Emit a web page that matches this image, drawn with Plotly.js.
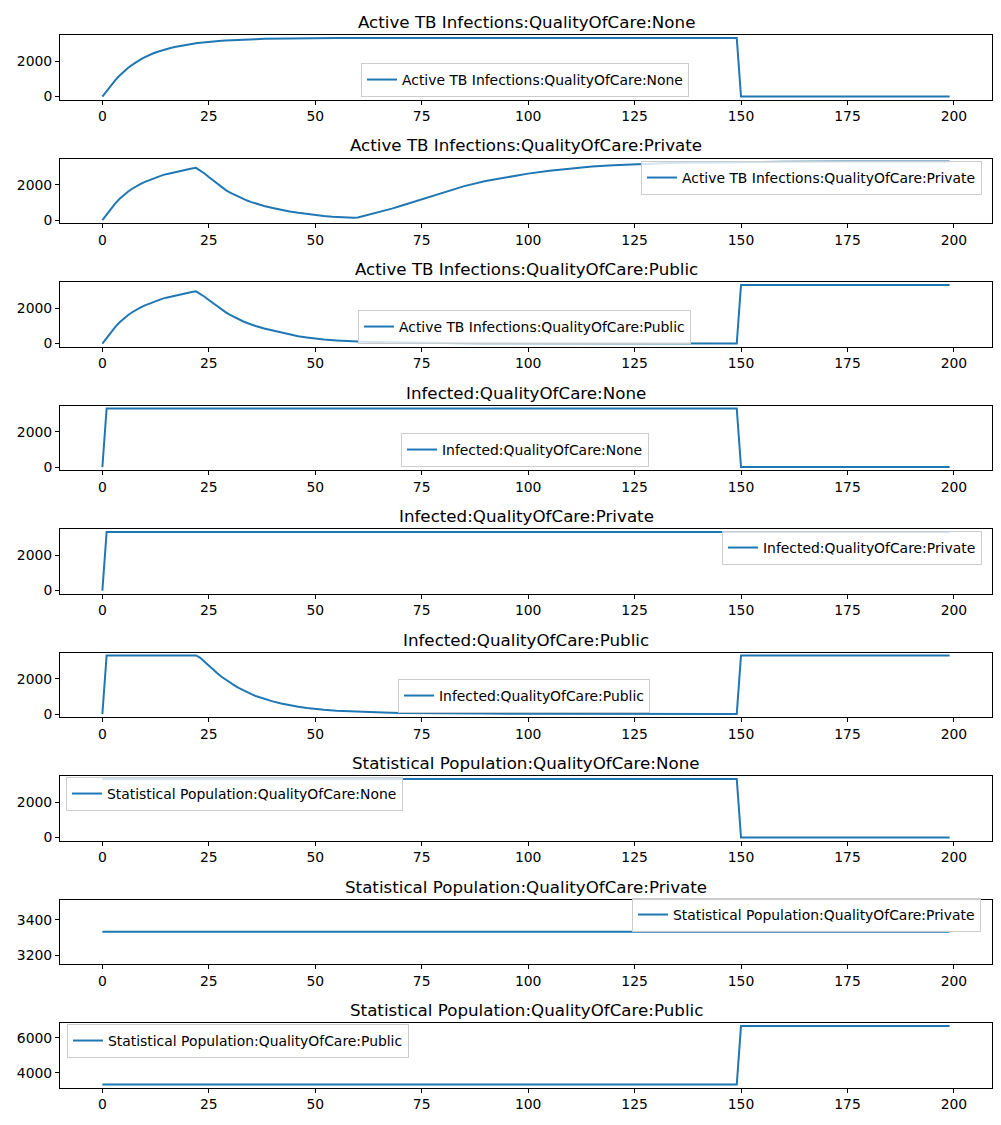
<!DOCTYPE html>
<html>
<head>
<meta charset="utf-8">
<script src="https://cdn.plot.ly/plotly-3.0.1.min.js"></script>
<style>html,body{margin:0;padding:0;background:#fff;}#chart{width:1001px;height:1125px;}</style>
</head>
<body>
<div id="chart"></div>
<script>
// ---------- data ----------
const seriesNames = [
  "Active TB Infections:QualityOfCare:None",
  "Active TB Infections:QualityOfCare:Private",
  "Active TB Infections:QualityOfCare:Public",
  "Infected:QualityOfCare:None",
  "Infected:QualityOfCare:Private",
  "Infected:QualityOfCare:Public",
  "Statistical Population:QualityOfCare:None",
  "Statistical Population:QualityOfCare:Private",
  "Statistical Population:QualityOfCare:Public"
];

const activeNoneT = [0,1,2,3,4,5,6,7,8,9,10,11,12,13,14,15,16,17,18,19,20,21,22,23,24,25,26,27,28,29,30,32,34,36,38,40,43,46,50,55,60,70,149,150,199];
const activeNoneY = [0,330,640,920,1180,1410,1620,1800,1970,2110,2240,2360,2460,2550,2630,2700,2760,2820,2870,2920,2960,3000,3030,3060,3090,3110,3135,3155,3175,3190,3205,3230,3250,3265,3280,3290,3302,3310,3318,3324,3328,3332,3333,0,0];

const activePrivateT = [0,1,2,3,4,5,6,7,8,9,10,11,12,13,14,15,16,17,18,19,20,21,22,23,24,25,26,27,28,29,30,31,32,33,34,35,36,38,40,42,44,46,48,50,52,54,56,58,59,60,62,64,66,68,70,72,75,80,85,90,95,100,105,110,115,120,125,130,135,140,150,160,175,199];
const activePrivateY = [0,330,650,940,1200,1420,1610,1780,1930,2060,2170,2270,2370,2460,2540,2610,2670,2730,2790,2840,2890,2930,2970,2820,2650,2450,2250,2050,1850,1700,1560,1440,1320,1210,1110,1020,940,800,690,580,490,410,340,280,230,190,160,135,130,150,270,380,510,650,800,950,1200,1580,1930,2220,2450,2640,2800,2930,3040,3120,3180,3220,3255,3275,3300,3315,3325,3333];

const activePublicT = [0,1,2,3,4,5,6,7,8,9,10,11,12,13,14,15,16,17,18,19,20,21,22,23,24,25,26,27,28,29,30,31,32,33,34,35,36,38,40,42,44,46,48,50,52,55,58,60,63,66,70,75,80,90,100,120,149,150,199];
const activePublicY = [0,330,650,940,1200,1420,1610,1780,1930,2060,2170,2270,2370,2460,2540,2610,2670,2730,2790,2840,2890,2930,2970,2830,2660,2480,2290,2100,1920,1770,1630,1500,1380,1270,1170,1080,1000,860,740,620,500,420,350,280,230,180,130,115,95,80,60,45,35,25,18,12,10,3333,3333];

const infectedNoneT = [0,1,149,150,199];
const infectedNoneY = [0,3333,3333,0,0];

const infectedPrivateT = [0,1,199];
const infectedPrivateY = [0,3333,3333];

const infectedPublicT = [0,1,22,23,24,25,26,27,28,29,30,31,32,33,34,35,36,38,40,42,44,46,48,50,52,55,58,60,63,66,70,75,80,90,100,120,149,150,199];
const infectedPublicY = [0,3333,3333,3200,2980,2750,2530,2320,2120,1940,1780,1630,1490,1360,1240,1130,1030,860,720,600,500,420,350,290,240,190,150,130,105,85,65,50,40,28,20,12,8,3333,3333];

const statNoneT = [0,149,150,199];
const statNoneY = [3333,3333,0,0];

const statPrivateT = [0,199];
const statPrivateY = [3333,3333];

const statPublicT = [0,149,150,199];
const statPublicY = [3333,3333,6667,6667];

const xTickStep = 25;
const yTickSteps = [2000,2000,2000,2000,2000,2000,2000,200,2000];

// ---------- figure ----------
const seriesT = [activeNoneT, activePrivateT, activePublicT, infectedNoneT, infectedPrivateT, infectedPublicT, statNoneT, statPrivateT, statPublicT];
const seriesY = [activeNoneY, activePrivateY, activePublicY, infectedNoneY, infectedPrivateY, infectedPublicY, statNoneY, statPrivateY, statPublicY];
// legend box top-left corners in pixels (matplotlib "best" locations)
const legendPos = [[361,63],[641,161],[358,310],[401,433],[722,531],[398,679],[66,777],[632,898],[67,1024]];

const W = 1001, H = 1125;
const left = 60, right = 992;
const FONT = "DejaVu Sans, Liberation Sans, sans-serif";
const BLUE = "#1f77b4";

function mplRange(arr) {
  let lo = Math.min(...arr), hi = Math.max(...arr);
  if (lo === hi) { lo -= 0.05 * Math.abs(lo); hi += 0.05 * Math.abs(hi); }
  const pad = 0.05 * (hi - lo);
  return [lo - pad, hi + pad];
}

const traces = [];
const layout = {
  width: W, height: H, autosize: false,
  margin: {l: 0, r: 0, t: 0, b: 0},
  paper_bgcolor: "#fff", plot_bgcolor: "#fff",
  font: {family: FONT, size: 13.9, color: "#000"},
  showlegend: true,
  annotations: []
};

for (let i = 0; i < 9; i++) {
  const top = 35 + 123.5 * i;
  const bottom = top + 64.5;
  const sfx = i === 0 ? "" : String(i + 1);
  const legName = "legend" + sfx;
  traces.push({
    x: seriesT[i], y: seriesY[i], type: "scatter", mode: "lines",
    name: seriesNames[i],
    line: {color: BLUE, width: 2},
    xaxis: "x" + sfx, yaxis: "y" + sfx,
    legend: legName
  });
  const xr = [0, 199];
  const xpad = 0.05 * (xr[1] - xr[0]);
  layout["xaxis" + sfx] = {
    domain: [left / W, right / W],
    anchor: "y" + sfx,
    range: [xr[0] - xpad, xr[1] + xpad],
    tickmode: "linear", tick0: 0, dtick: xTickStep,
    showgrid: false, zeroline: false,
    showline: true, mirror: true, linecolor: "#000", linewidth: 1,
    ticks: "outside", ticklen: 4, tickwidth: 1, tickcolor: "#000",
    tickfont: {family: FONT, size: 13.9, color: "#000"}
  };
  layout["yaxis" + sfx] = {
    domain: [1 - bottom / H, 1 - top / H],
    anchor: "x" + sfx,
    range: mplRange(seriesY[i]),
    tickmode: "linear", tick0: 0, dtick: yTickSteps[i],
    showgrid: false, zeroline: false,
    showline: true, mirror: true, linecolor: "#000", linewidth: 1,
    ticks: "outside", ticklen: 4, tickwidth: 1, tickcolor: "#000",
    tickfont: {family: FONT, size: 13.9, color: "#000"}
  };
  layout[legName] = {
    x: legendPos[i][0] / W, y: 1 - legendPos[i][1] / H,
    xanchor: "left", yanchor: "top",
    xref: "paper", yref: "paper",
    bgcolor: "rgba(255,255,255,0.8)",
    bordercolor: "#cccccc", borderwidth: 1,
    font: {family: FONT, size: 13.9, color: "#000"},
    itemwidth: 30
  };
  layout.annotations.push({
    text: seriesNames[i],
    xref: "paper", yref: "paper",
    x: (left + right) / 2 / W, y: 1 - top / H,
    xanchor: "center", yanchor: "bottom",
    yshift: 1, showarrow: false,
    font: {family: FONT, size: 16.7, color: "#000"}
  });
}

Plotly.newPlot("chart", traces, layout, {staticPlot: true, displayModeBar: false});
</script>
</body>
</html>
